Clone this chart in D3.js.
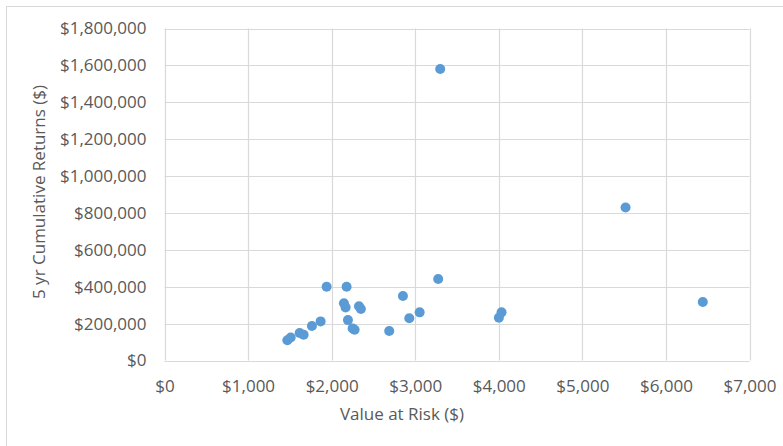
<!DOCTYPE html>
<html>
<head>
<meta charset="utf-8">
<script src="https://cdn.jsdelivr.net/npm/d3@7"></script>
<style>
  html, body { margin: 0; padding: 0; background: #fff; }
  svg { display: block; }
  text { font-family: "Open Sans", "Noto Sans", sans-serif; fill: #595959; }
</style>
</head>
<body>
<svg id="chart" width="783" height="446"></svg>
<script>
// Data
const valueAtRisk = [1470, 1510, 1617, 1665, 1764, 1868, 1940, 2147, 2167, 2179, 2195, 2251, 2275, 2327, 2350, 2689, 2853, 2929, 3053, 3275, 3299, 4001, 4033, 5517, 6441];
const cumulativeReturns = [110000, 125000, 149000, 140000, 187000, 212000, 400000, 310000, 288000, 400000, 219000, 174000, 167000, 294000, 279000, 160000, 350000, 229000, 261000, 442000, 1580000, 232000, 261000, 830000, 317000];
const xTicks = [0, 1000, 2000, 3000, 4000, 5000, 6000, 7000];
const yTicks = [0, 200000, 400000, 600000, 800000, 1000000, 1200000, 1400000, 1600000, 1800000];
const xTitle = "Value at Risk ($)";
const yTitle = "5 yr Cumulative Returns ($)";

(function () {
const svg = d3.select("#chart");
const W = 783, H = 446;

// outer chart frame (only top and left visible in the reference)
svg.append("rect").attr("x", 6.5).attr("y", 6.5).attr("width", W + 10).attr("height", H + 10)
  .attr("fill", "#fff").attr("stroke", "#d9d9d9").attr("stroke-width", 1);

const pLeft = 164.5, pRight = 749.5, pTop = 28.5, pBottom = 360.5;
const x = d3.scaleLinear().domain([0, 7000]).range([pLeft, pRight]);
const y = d3.scaleLinear().domain([0, 1800000]).range([pBottom, pTop]);

const fmt = d3.format("$,");
const FS = "17px";

// gridlines
const grid = svg.append("g");
grid.selectAll(".vg").data(xTicks).join("line")
  .attr("x1", d => Math.round(x(d)) + 0.5).attr("x2", d => Math.round(x(d)) + 0.5)
  .attr("y1", pTop).attr("y2", pBottom)
  .attr("stroke", "#d9d9d9").attr("stroke-width", 1.2);
grid.selectAll(".hg").data(yTicks).join("line")
  .attr("y1", d => Math.round(y(d)) + 0.5).attr("y2", d => Math.round(y(d)) + 0.5)
  .attr("x1", pLeft).attr("x2", pRight)
  .attr("stroke", "#d9d9d9").attr("stroke-width", 1.2);

// axes (labels only, via d3 axes)
const xAxis = d3.axisBottom(x).tickValues(xTicks).tickFormat(fmt).tickSize(0).tickPadding(19);
const yAxis = d3.axisLeft(y).tickValues(yTicks).tickFormat(fmt).tickSize(0).tickPadding(18);

const gx = svg.append("g").attr("transform", `translate(0,${pBottom})`).call(xAxis);
const gy = svg.append("g").attr("transform", `translate(${pLeft},0)`).call(yAxis);
[gx, gy].forEach(g => {
  g.select(".domain").remove();
  g.selectAll("text").style("font-family", '"Open Sans", sans-serif')
    .style("font-size", FS).attr("fill", "#595959");
});

// axis titles
svg.append("text").attr("x", 402).attr("y", 420).attr("text-anchor", "middle")
  .style("font-size", FS).text(xTitle);
svg.append("text").attr("transform", "translate(45,192) rotate(-90)").attr("text-anchor", "middle")
  .style("font-size", FS).text(yTitle);

// points
const pts = valueAtRisk.map((v, i) => ({ v, r: cumulativeReturns[i] }));
svg.append("g").selectAll("circle").data(pts).join("circle")
  .attr("cx", d => x(d.v)).attr("cy", d => y(d.r)).attr("r", 5)
  .attr("fill", "#5b9bd5");
})();
</script>
</body>
</html>
